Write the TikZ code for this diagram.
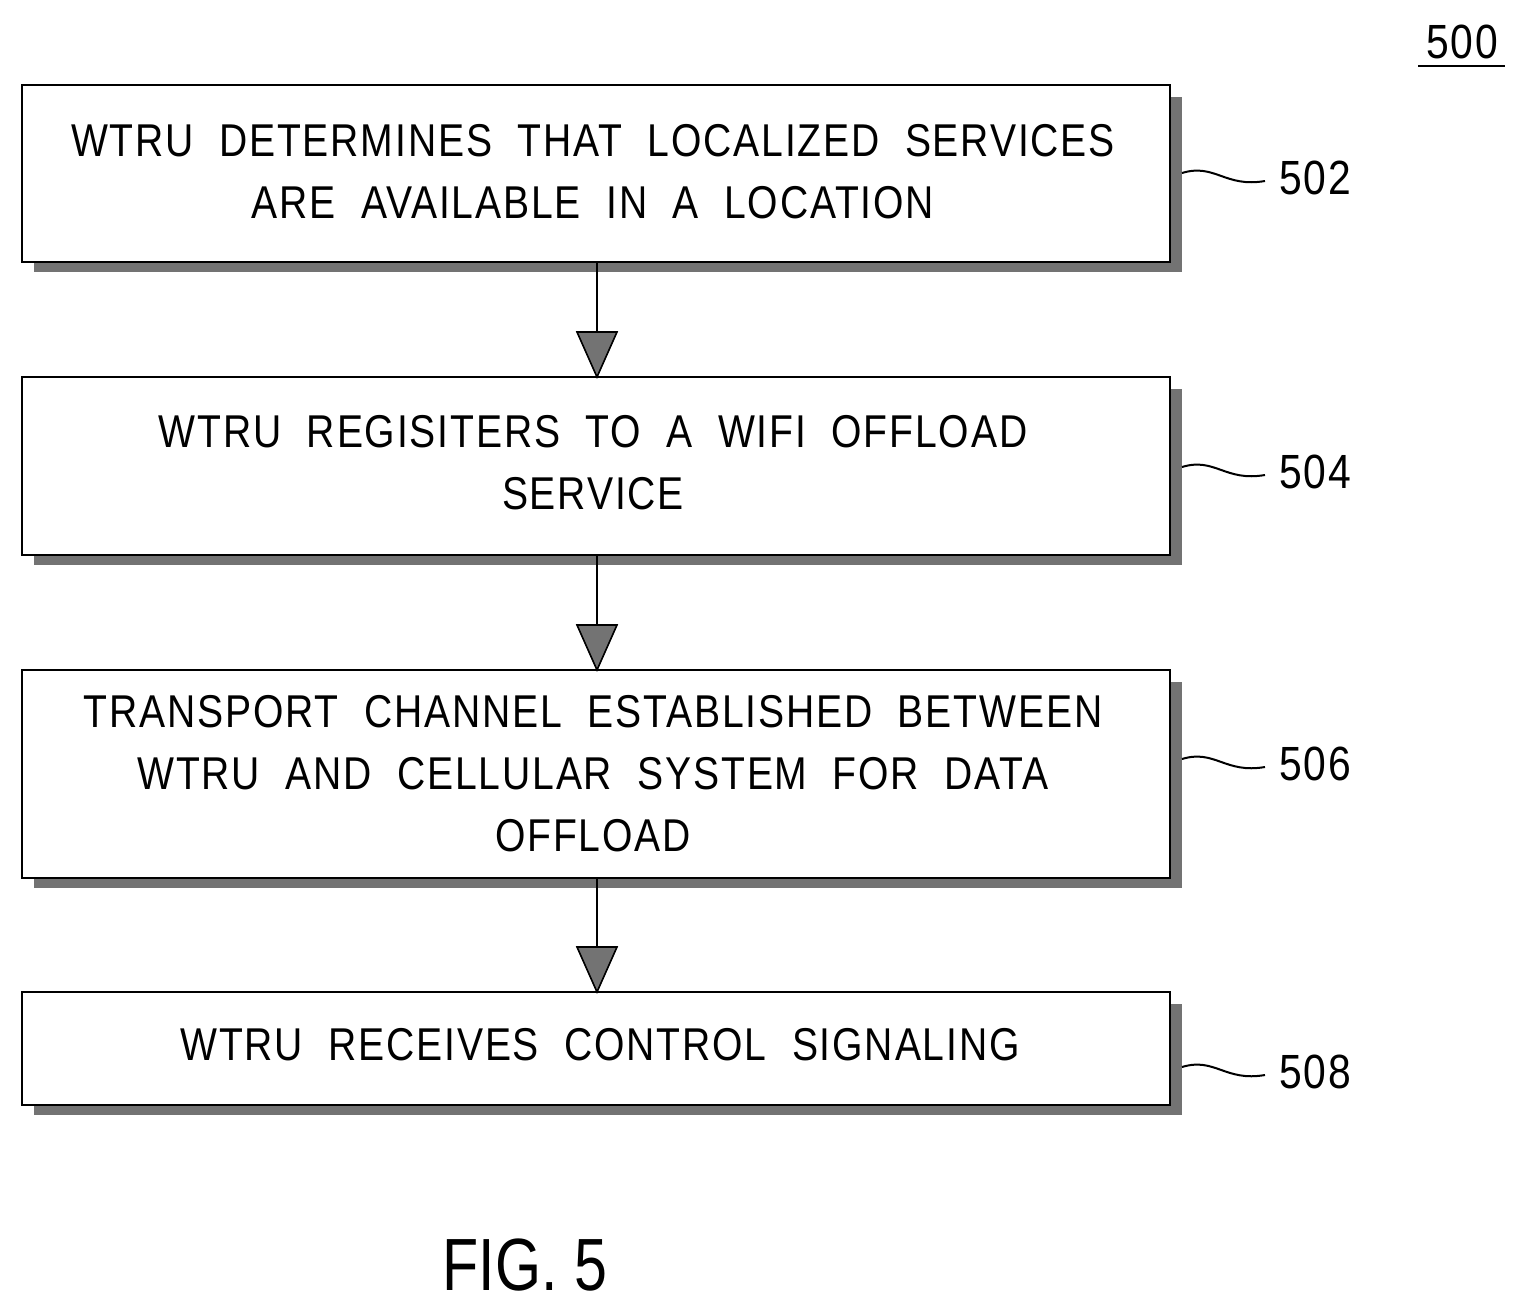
\documentclass[tikz,border=0pt]{standalone}
\usetikzlibrary{calc}
\usepackage{fontspec}
\setmainfont{Liberation Sans}[FakeStretch=0.85,LetterSpace=4]
\newfontfamily\figfont{Liberation Sans}[FakeStretch=0.8]
\begin{document}
\begin{tikzpicture}[x=0.5pt,y=-0.5pt,
  box/.style={draw=black,line width=1.2pt,fill=white},
  shad/.style={fill=black!55},
  txt/.style={font=\fontsize{23pt}{31pt}\selectfont,align=center},
  num/.style={font=\fontsize{24pt}{28pt}\selectfont},
  squig/.style={line width=1pt},
  arr/.style={line width=1.2pt}]
\useasboundingbox (0,0) rectangle (1526,1315);
% shadows and boxes
\foreach \n/\t/\b in {a/85/262,b/377/555,c/670/878,d/992/1105}{
  \fill[shad] (34,\t+12) rectangle (1182,\b+10);
  \draw[box] (22,\t) rectangle (1170,\b);
  \coordinate (\n top) at (597,\t);
  \coordinate (\n bot) at (597,\b);
}
\node[txt] (t1) at (593,172) {WTRU\ \ DETERMINES\ \ THAT\ \ LOCALIZED\ \ SERVICES\\ARE\ \ AVAILABLE\ \ IN\ \ A\ \ LOCATION};
\node[txt] (t2) at (593,463) {WTRU\ \ REGISITERS\ \ TO\ \ A\ \ WIFI\ \ OFFLOAD\\SERVICE};
\node[txt] (t3) at (593,774) {TRANSPORT\ \ CHANNEL\ \ ESTABLISHED\ \ BETWEEN\\WTRU\ \ AND\ \ CELLULAR\ \ SYSTEM\ \ FOR\ \ DATA\\OFFLOAD};
\node[txt] (t4) at (600,1045) {WTRU\ \ RECEIVES\ \ CONTROL\ \ SIGNALING};
% arrows
\foreach \s/\e in {a/b,b/c,c/d}{
  \draw[arr] (\s bot) -- ($(\e top)+(0,-30)$);
  \filldraw[fill=black!55,draw=black,line width=0.8pt] ($(\e top)+(-20,-45)$) -- ($(\e top)+(20,-45)$) -- (\e top) -- cycle;
}
% labels
\foreach \y/\l in {178/502,472/504,764/506,1072/508}{
  \draw[squig] (1182,\y-5) .. controls (1215,\y-15) and (1225,\y+10) .. (1265,\y+3);
  \node[num,anchor=west] (n\l) at (1272,\y) {\l};
}
\node[num] (n500) at (1462,42) {500};
\draw[line width=1pt] (1418,66) -- (1505,66);
\node[font=\figfont\fontsize{37pt}{40pt}\selectfont] (fig) at (525,1265) {FIG. 5};
\end{tikzpicture}
\end{document}
